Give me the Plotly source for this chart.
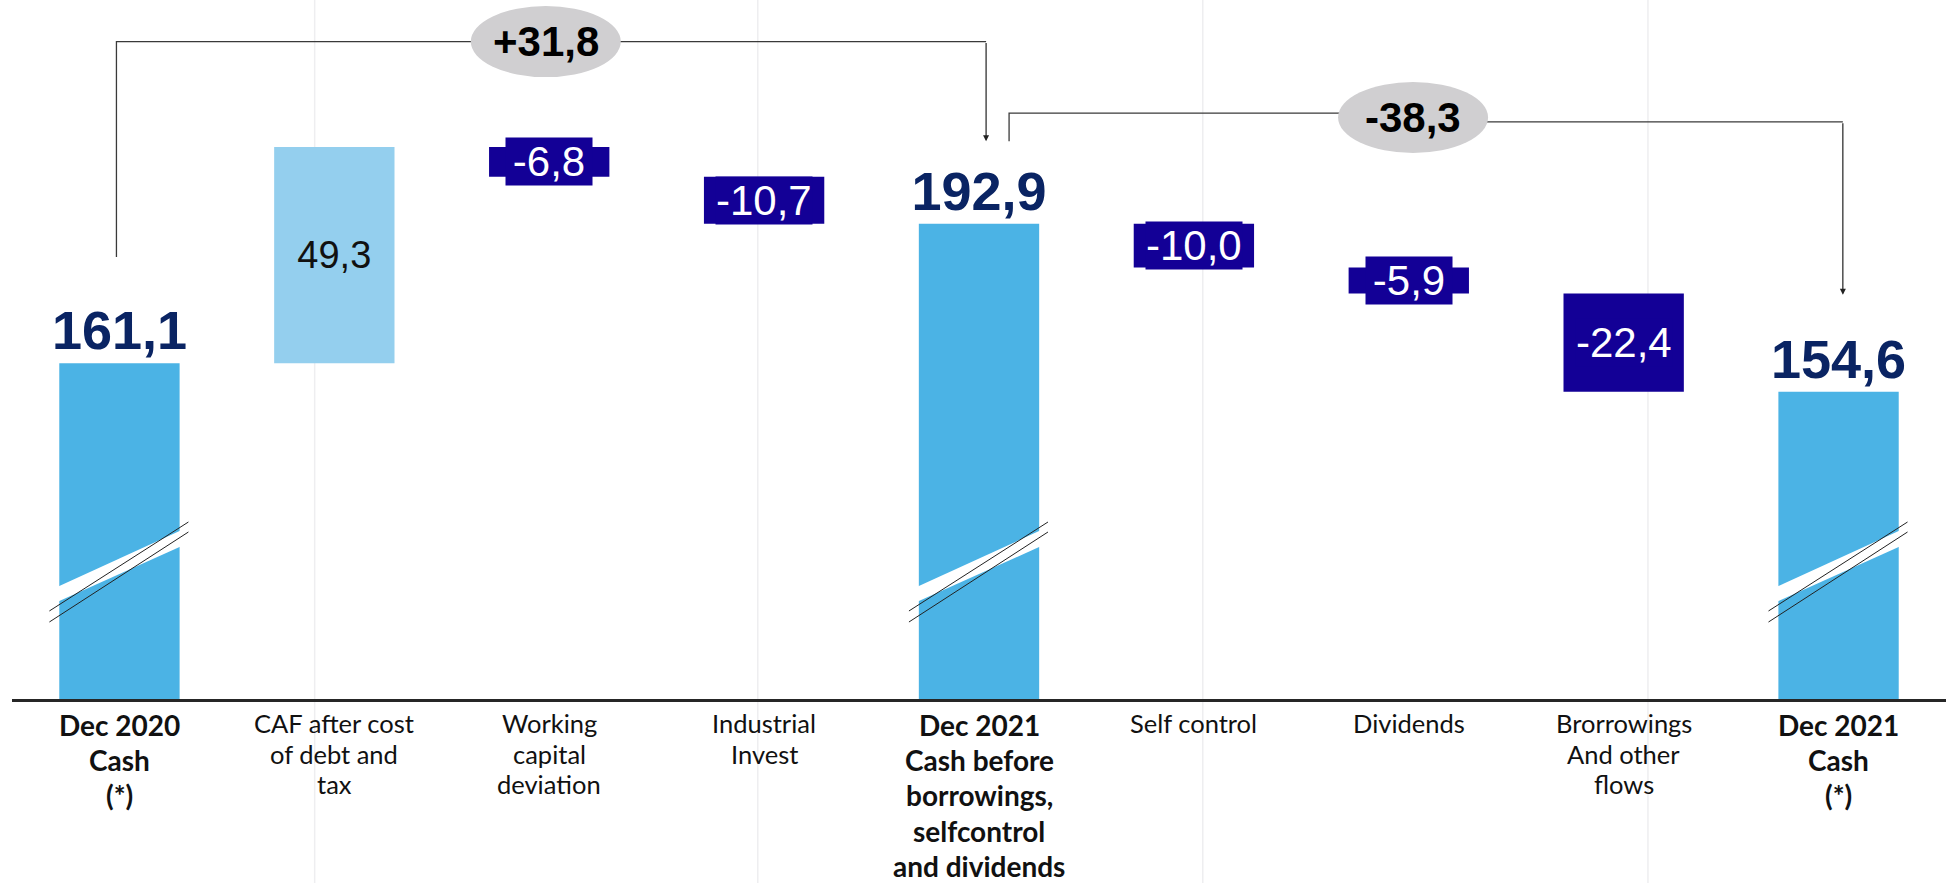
import plotly.graph_objects as go

# ---- data -------------------------------------------------------------
categories = [
    "Dec 2020 Cash", "CAF", "Working capital", "Industrial Invest",
    "Dec 2021 Cash before", "Self control", "Dividends", "Borrowings", "Dec 2021 Cash",
]
tick_labels = [
    "Dec 2020<br>Cash<br>(*)",
    "CAF after cost<br>of debt and<br>tax",
    "Working<br>capital<br>deviation",
    "Industrial<br>Invest",
    "Dec 2021<br>Cash before<br>borrowings,<br>selfcontrol<br>and dividends",
    "Self control",
    "Dividends",
    "Brorrowings<br>And other<br>flows",
    "Dec 2021<br>Cash<br>(*)",
]
measures = ["absolute", "relative", "relative", "relative", "total",
            "relative", "relative", "relative", "total"]
values = [161.1, 49.3, -6.8, -10.7, 0, -10.0, -5.9, -22.4, 0]
bold_labels = [True, False, False, False, True, False, False, False, True]

# ---- derived levels ----------------------------------------------------
levels_before, levels_after = [], []
running = 0.0
for m, v in zip(measures, values):
    before = running
    if m == "absolute":
        before, running = 0.0, v
    elif m == "relative":
        running += v
    levels_before.append(before)
    levels_after.append(running)

def fr(v, sign=False):
    s = f"{v:+.1f}" if sign else f"{v:.1f}"
    return s.replace(".", ",")

# ---- style ------------------------------------------------------------
C_TOTAL = "#4bb3e5"
C_UP = "#94cfee"
C_DOWN = "#130096"
C_NAVY = "#0a2463"
C_OVAL = "#d0cfd1"
NUM_FONT = "Liberation Sans, Arial, Helvetica, sans-serif"
LBL_FONT = "Lato, Roboto, sans-serif"
Y_RANGE = [84.63, 243.86]
BAR_W = 0.56

text, textpos = [], []
for i, m in enumerate(measures):
    if m in ("absolute", "total"):
        text.append(fr(levels_after[i])); textpos.append("outside")
    elif values[i] > 0:
        text.append(fr(values[i])); textpos.append("inside")
    else:
        text.append(""); textpos.append("none")

fig = go.Figure(go.Waterfall(
    x=categories, y=values, measure=measures,
    width=BAR_W,
    text=text, textposition=textpos,
    outsidetextfont=dict(family=NUM_FONT, size=54, color=C_NAVY, weight="bold"),
    insidetextfont=dict(family=NUM_FONT, size=38, color="#111111"),
    insidetextanchor="middle", constraintext="none",
    increasing=dict(marker=dict(color=C_UP, line=dict(width=0))),
    decreasing=dict(marker=dict(color=C_DOWN, line=dict(width=0))),
    totals=dict(marker=dict(color=C_TOTAL, line=dict(width=0))),
    connector=dict(visible=False),
    hoverinfo="skip",
))

shapes, annotations = [], []

# faint slide guide lines
for px in (0.1565, 0.3856, 0.6157, 0.8459):
    shapes.append(dict(type="line", xref="paper", yref="paper", x0=px, x1=px,
                       y0=-0.27, y1=1.0, line=dict(color="#eeeef0", width=1.5),
                       layer="below"))

# axis-break marks on the cash bars
for i, m in enumerate(measures):
    if m not in ("absolute", "total"):
        continue
    h = BAR_W / 2
    shapes.append(dict(type="path", xref="x", yref="y",
                       path=f"M{i-h-0.01},110.14 L{i+h+0.01},123.13 L{i+h+0.01},119.48 L{i-h-0.01},106.72 Z",
                       fillcolor="white", line=dict(width=0)))
    for ya, yb in ((104.68, 124.95), (102.17, 122.67)):
        shapes.append(dict(type="line", xref="x", yref="y",
                           x0=i - 0.326, y0=ya, x1=i + 0.321, y1=yb,
                           line=dict(color="#222222", width=1)))

# variation brackets between cash positions
def bracket(x_start, y_start, y_left, y_right, x_end, y_tip, oval_x, label):
    line = dict(color="#3a3a3a", width=1.3)
    shapes.append(dict(type="path", xref="x", yref="y",
                       path=f"M{x_start},{y_start} L{x_start},{y_left} L{oval_x},{y_left}",
                       line=line))
    shapes.append(dict(type="path", xref="x", yref="y",
                       path=f"M{oval_x},{y_right} L{x_end},{y_right}",
                       line=line))
    annotations.append(dict(x=x_end, y=y_tip, ax=x_end, ay=y_right,
                            xref="x", yref="y", axref="x", ayref="y",
                            text="", showarrow=True, arrowhead=2, arrowsize=1,
                            arrowwidth=1.2, arrowcolor="#222222", standoff=0))
    yc = (y_left + y_right) / 2
    shapes.append(dict(type="circle", xref="x", yref="y",
                       x0=oval_x - 0.349, x1=oval_x + 0.349,
                       y0=yc - 8.1, y1=yc + 8.1,
                       fillcolor=C_OVAL, line=dict(width=0)))
    annotations.append(dict(x=oval_x, y=yc, xref="x", yref="y", text=label,
                            showarrow=False,
                            font=dict(family=NUM_FONT, size=42, color="#000000",
                                      weight="bold")))

bracket(-0.014, levels_after[0] + 24.2, 234.4, 234.4, 4.033,
        levels_after[4] + 18.8, 1.984, fr(levels_after[4] - levels_after[0], True))
bracket(4.14, levels_after[4] + 18.8, 218.1, 216.1, 8.02,
        levels_after[8] + 22.1, 6.02, fr(levels_after[8] - levels_after[4], True))

# value tags on the outflow bars
for i, v in enumerate(values):
    if measures[i] == "relative" and v < 0:
        tag = fr(v)
        ann = dict(x=i, y=(levels_before[i] + levels_after[i]) / 2,
                   xref="x", yref="y", text=tag, showarrow=False,
                   font=dict(family=NUM_FONT, size=42, color="white"),
                   bgcolor=C_DOWN, borderpad=0)
        if len(tag) <= 4:
            ann.update(width=86, height=47)
        annotations.append(ann)

# category labels, one annotation per line for exact leading
for i, lab in enumerate(tick_labels):
    bold = bold_labels[i]
    first, step = (725, 35.2) if bold else (723, 30.5)
    for k, line_txt in enumerate(lab.split("<br>")):
        annotations.append(dict(
            x=i, y=0, xref="x", yref="paper", yanchor="middle",
            yshift=-(first + k * step - 699),
            text=f"<b>{line_txt}</b>" if bold else line_txt,
            showarrow=False, align="center",
            font=dict(family=LBL_FONT, size=28 if bold else 25.5,
                      color="#111111")))

fig.update_layout(
    width=1946, height=883,
    margin=dict(l=12, r=0, t=0, b=184),
    paper_bgcolor="white", plot_bgcolor="white",
    showlegend=False,
    xaxis=dict(type="category", range=[-0.5, 8.5], showgrid=False,
               showline=True, linecolor="#262626", linewidth=3,
               showticklabels=False, ticks="", zeroline=False, fixedrange=True),
    yaxis=dict(range=Y_RANGE, visible=False, showgrid=False, zeroline=False,
               fixedrange=True),
    shapes=shapes, annotations=annotations,
)

fig.write_html("out.html", config=dict(displayModeBar=False))
